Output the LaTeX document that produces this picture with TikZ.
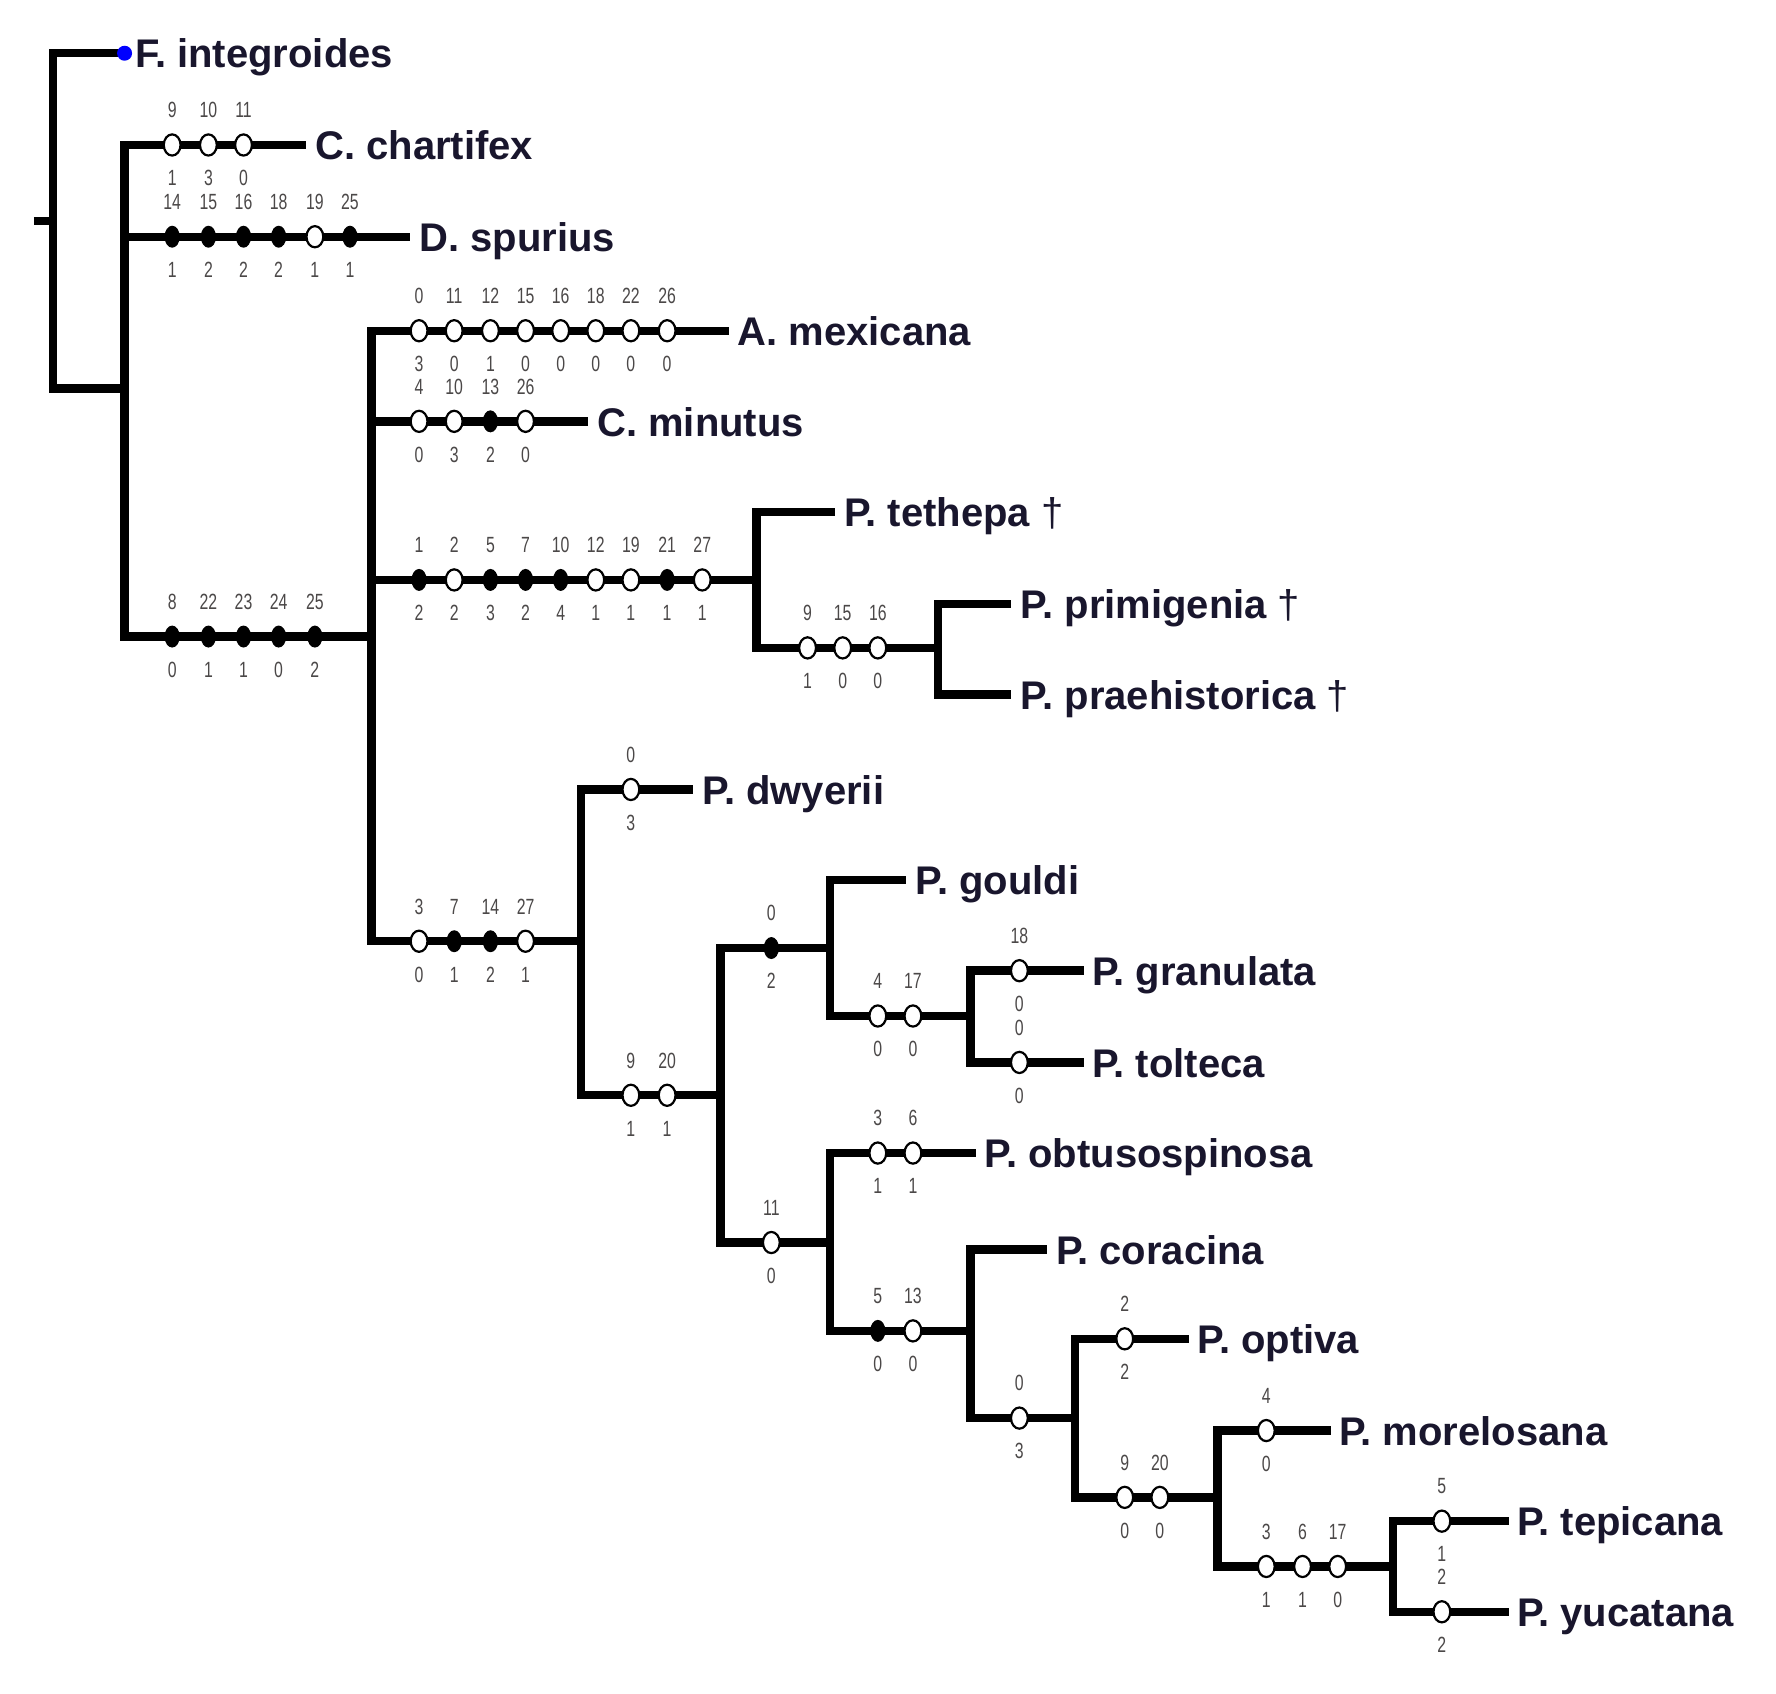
\documentclass[tikz,border=0pt]{standalone}
\usepackage{fontspec}
\setmainfont{Liberation Sans}
\newfontfamily\numfont[FakeStretch=0.72]{Liberation Sans}
\usetikzlibrary{shapes.geometric}
\definecolor{taxcol}{RGB}{25,22,45}
\definecolor{numcol}{RGB}{75,72,72}
\definecolor{rootblue}{RGB}{0,0,255}
\tikzset{
  branch/.style={line width=4.2pt, line join=miter, line cap=butt},
  opn/.style={shape=ellipse, draw=black, fill=white, line width=1.1pt, minimum width=8.4pt, minimum height=10.6pt, inner sep=0pt},
  fil/.style={shape=ellipse, fill=black, minimum width=7.6pt, minimum height=11pt, inner sep=0pt},
  num/.style={font=\numfont\fontsize{11}{12}\selectfont, text=numcol, inner sep=0pt, anchor=base},
  taxon/.style={font=\fontsize{20}{23}\selectfont\bfseries, text=taxcol, inner sep=0pt, anchor=base west},
  bluedot/.style={shape=circle, fill=rootblue, minimum size=7.5pt, inner sep=0pt},
}
\newcommand\charrow[2]{%
  \foreach \x/\s/\a/\b in {#2}{%
    \ifnum\s=1 \node[fil] (m-\x-#1) at (\x,#1) {};\else \node[opn] (m-\x-#1) at (\x,#1) {};\fi
    \node[num] (u-\x-#1) at (\x,#1-24) {\a};
    \node[num] (d-\x-#1) at (\x,#1+36) {\b};
  }}
\begin{document}
\begin{tikzpicture}[x=0.5665pt, y=-0.5665pt]
\useasboundingbox[fill=white] (0,0) rectangle (1568,1495);
% tree nodes and tips
\coordinate (r0) at (30,195);
\coordinate (nR) at (47,195);
\coordinate (tInt) at (110,47);
\coordinate (nA) at (110,343);
\coordinate (tCha) at (270,128);
\coordinate (tSpu) at (362,209);
\coordinate (nB) at (328,562);
\coordinate (tMex) at (644,292);
\coordinate (tMin) at (519,372);
\coordinate (nC) at (668,512);
\coordinate (tTet) at (737,452);
\coordinate (nD) at (828,572);
\coordinate (tPri) at (893,533);
\coordinate (tPra) at (893,613);
\coordinate (nE) at (513,831);
\coordinate (tDwy) at (612,697);
\coordinate (nF) at (636,967);
\coordinate (nG) at (733,837);
\coordinate (tGou) at (800,777);
\coordinate (nH) at (857,897);
\coordinate (tGra) at (957,857);
\coordinate (tTol) at (957,938);
\coordinate (nI) at (733,1097);
\coordinate (tObt) at (862,1018);
\coordinate (nJ) at (857,1175);
\coordinate (tCor) at (924,1103);
\coordinate (nK) at (949,1252);
\coordinate (tOpt) at (1050,1182);
\coordinate (nL) at (1075,1322);
\coordinate (tMor) at (1175,1263);
\coordinate (nM) at (1230,1383);
\coordinate (tTep) at (1332,1343);
\coordinate (tYuc) at (1332,1423);
% branches
\draw[branch] (r0) -- (nR);
\draw[branch] (nR) |- (tInt);
\draw[branch] (nR) |- (nA);
\draw[branch] (nA) |- (tCha);
\draw[branch] (nA) |- (tSpu);
\draw[branch] (nA) |- (nB);
\draw[branch] (nB) |- (tMex);
\draw[branch] (nB) |- (tMin);
\draw[branch] (nB) |- (nC);
\draw[branch] (nB) |- (nE);
\draw[branch] (nC) |- (tTet);
\draw[branch] (nC) |- (nD);
\draw[branch] (nD) |- (tPri);
\draw[branch] (nD) |- (tPra);
\draw[branch] (nE) |- (tDwy);
\draw[branch] (nE) |- (nF);
\draw[branch] (nF) |- (nG);
\draw[branch] (nF) |- (nI);
\draw[branch] (nG) |- (tGou);
\draw[branch] (nG) |- (nH);
\draw[branch] (nH) |- (tGra);
\draw[branch] (nH) |- (tTol);
\draw[branch] (nI) |- (tObt);
\draw[branch] (nI) |- (nJ);
\draw[branch] (nJ) |- (tCor);
\draw[branch] (nJ) |- (nK);
\draw[branch] (nK) |- (tOpt);
\draw[branch] (nK) |- (nL);
\draw[branch] (nL) |- (tMor);
\draw[branch] (nL) |- (nM);
\draw[branch] (nM) |- (tTep);
\draw[branch] (nM) |- (tYuc);
% character changes
\charrow{128}{152/0/9/1, 184/0/10/3, 215/0/11/0}
\charrow{209}{152/1/14/1, 184/1/15/2, 215/1/16/2, 246/1/18/2, 278/0/19/1, 309/1/25/1}
\charrow{562}{152/1/8/0, 184/1/22/1, 215/1/23/1, 246/1/24/0, 278/1/25/2}
\charrow{292}{370/0/0/3, 401/0/11/0, 433/0/12/1, 464/0/15/0, 495/0/16/0, 526/0/18/0, 557/0/22/0, 589/0/26/0}
\charrow{372}{370/0/4/0, 401/0/10/3, 433/1/13/2, 464/0/26/0}
\charrow{512}{370/1/1/2, 401/0/2/2, 433/1/5/3, 464/1/7/2, 495/1/10/4, 526/0/12/1, 557/0/19/1, 589/1/21/1, 620/0/27/1}
\charrow{572}{713/0/9/1, 744/0/15/0, 775/0/16/0}
\charrow{831}{370/0/3/0, 401/1/7/1, 433/1/14/2, 464/0/27/1}
\charrow{697}{557/0/0/3}
\charrow{967}{557/0/9/1, 589/0/20/1}
\charrow{837}{681/1/0/2}
\charrow{897}{775/0/4/0, 806/0/17/0}
\charrow{857}{900/0/18/0}
\charrow{938}{900/0/0/0}
\charrow{1097}{681/0/11/0}
\charrow{1018}{775/0/3/1, 806/0/6/1}
\charrow{1175}{775/1/5/0, 806/0/13/0}
\charrow{1252}{900/0/0/3}
\charrow{1182}{993/0/2/2}
\charrow{1322}{993/0/9/0, 1024/0/20/0}
\charrow{1263}{1118/0/4/0}
\charrow{1383}{1118/0/3/1, 1150/0/6/1, 1181/0/17/0}
\charrow{1343}{1273/0/5/1}
\charrow{1423}{1273/0/2/2}
% root marker
\node[bluedot] (bInt) at (tInt) {};
% taxon labels
\node[taxon] (lInt) at (119,60) {F. integroides};
\node[taxon] (lCha) at (278,141) {C. chartifex};
\node[taxon] (lSpu) at (370,222) {D. spurius};
\node[taxon] (lMex) at (651,305) {A. mexicana};
\node[taxon] (lMin) at (527,385) {C. minutus};
\node[taxon] (lTet) at (745,465) {P. tethepa {\mdseries †}};
\node[taxon] (lPri) at (901,546) {P. primigenia {\mdseries †}};
\node[taxon] (lPra) at (901,626) {P. praehistorica {\mdseries †}};
\node[taxon] (lDwy) at (620,710) {P. dwyerii};
\node[taxon] (lGou) at (808,790) {P. gouldi};
\node[taxon] (lGra) at (964,870) {P. granulata};
\node[taxon] (lTol) at (964,951) {P. tolteca};
\node[taxon] (lObt) at (869,1031) {P. obtusospinosa};
\node[taxon] (lCor) at (932,1116) {P. coracina};
\node[taxon] (lOpt) at (1057,1195) {P. optiva};
\node[taxon] (lMor) at (1182,1276) {P. morelosana};
\node[taxon] (lTep) at (1339,1356) {P. tepicana};
\node[taxon] (lYuc) at (1339,1436) {P. yucatana};
\end{tikzpicture}
\end{document}
